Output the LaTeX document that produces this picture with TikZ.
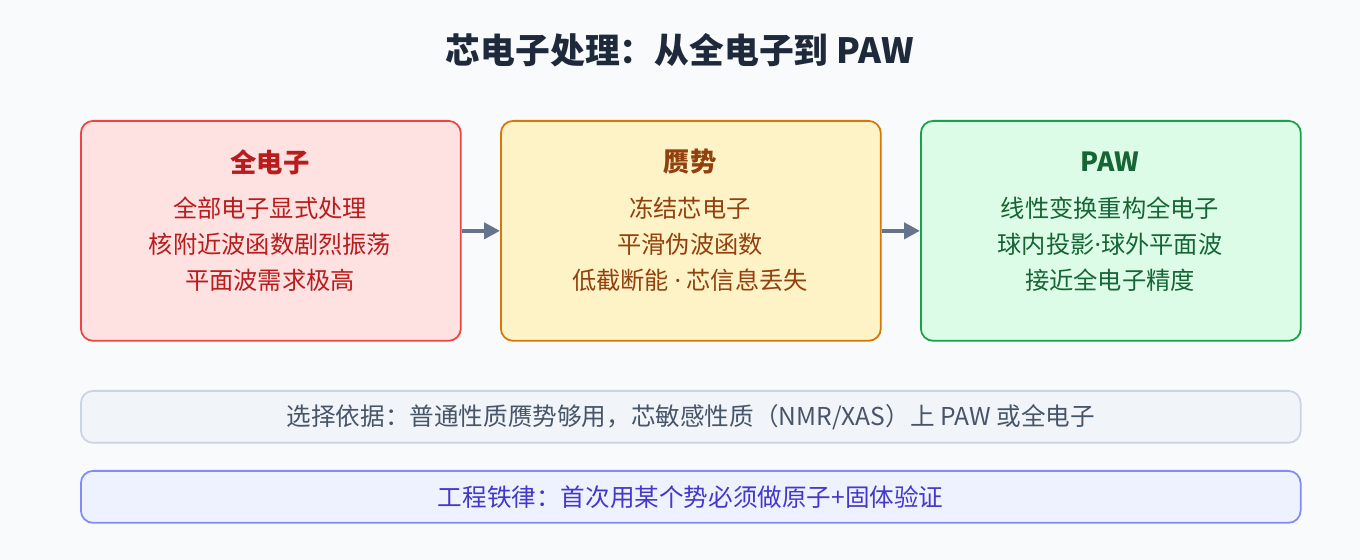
\documentclass[tikz,border=0pt]{standalone}
\usepackage{fontspec}
\setmainfont{Noto Sans CJK SC}
\newfontfamily\latinfont{Noto Sans}
\newcommand{\mdot}{{\latinfont ·}}
\usetikzlibrary{positioning, arrows.meta}
\definecolor{bgc}{HTML}{F8FAFC}
\definecolor{titlec}{HTML}{1E293B}
\definecolor{redf}{HTML}{FEE2E2}\definecolor{redd}{HTML}{EF4444}\definecolor{redt}{HTML}{B91C1C}
\definecolor{yelf}{HTML}{FEF3C7}\definecolor{yeld}{HTML}{D97706}\definecolor{yelt}{HTML}{92400E}
\definecolor{grnf}{HTML}{DCFCE7}\definecolor{grnd}{HTML}{16A34A}\definecolor{grnt}{HTML}{166534}
\definecolor{grayf}{HTML}{F1F5F9}\definecolor{grayd}{HTML}{CBD5E1}\definecolor{grayt}{HTML}{475569}
\definecolor{indf}{HTML}{EEF2FF}\definecolor{indd}{HTML}{818CF8}\definecolor{indt}{HTML}{4338CA}
\definecolor{arrc}{HTML}{64748B}

\begin{document}
\begin{tikzpicture}[
		x=0.02cm, y=-0.02cm,
		>={Triangle[length=9pt, width=9pt]},
		stage/.style={draw, rectangle, line width=1pt, rounded corners=7pt, minimum width=7.6cm, minimum height=4.4cm, anchor=north west},
		head/.style={font=\fontsize{15}{17}\selectfont\bfseries},
		body/.style={font=\fontsize{13.8}{20.4}\selectfont, align=center},
		note/.style={draw, rectangle, line width=1pt, rounded corners=7pt, minimum width=24.4cm, minimum height=1.04cm, anchor=north west, font=\fontsize{14}{16}\selectfont},
	]
	\fill[bgc] (0, 0) rectangle (1360, 560);
	\node[font=\fontsize{19.8}{22}\selectfont\bfseries, text=titlec] (title) at (680, 50) {芯电子处理：从全电子到 PAW};

	\node[stage, fill=redf, draw=redd] (allel) at (80, 120) {};
	\node[stage, fill=yelf, draw=yeld] (pseudo) at (500, 120) {};
	\node[stage, fill=grnf, draw=grnd] (paw) at (920, 120) {};

	\node[head, text=redt] (allel_h) at (270, 162) {全电子};
	\node[body, text=redt] (allel_b) at (270, 244) {全部电子显式处理\\核附近波函数剧烈振荡\\平面波需求极高};
	\node[head, text=yelt] (pseudo_h) at (690, 162) {赝势};
	\node[body, text=yelt] (pseudo_b) at (690, 244) {冻结芯电子\\平滑伪波函数\\低截断能 \mdot{} 芯信息丢失};
	\node[head, text=grnt] (paw_h) at (1110, 162) {PAW};
	\node[body, text=grnt] (paw_b) at (1110, 244) {线性变换重构全电子\\球内投影\mdot 球外平面波\\接近全电子精度};

	\draw[->, arrc, line width=2.5pt] (allel) -- (pseudo);
	\draw[->, arrc, line width=2.5pt] (pseudo) -- (paw);

	\node[note, fill=grayf, draw=grayd, text=grayt] (basis) at (80, 390) {选择依据：普通性质赝势够用，芯敏感性质（NMR/XAS）上 PAW 或全电子};
	\node[note, fill=indf, draw=indd, text=indt] (rule) at (80, 470) {工程铁律：首次用某个势必须做原子+固体验证};
\end{tikzpicture}
\end{document}
